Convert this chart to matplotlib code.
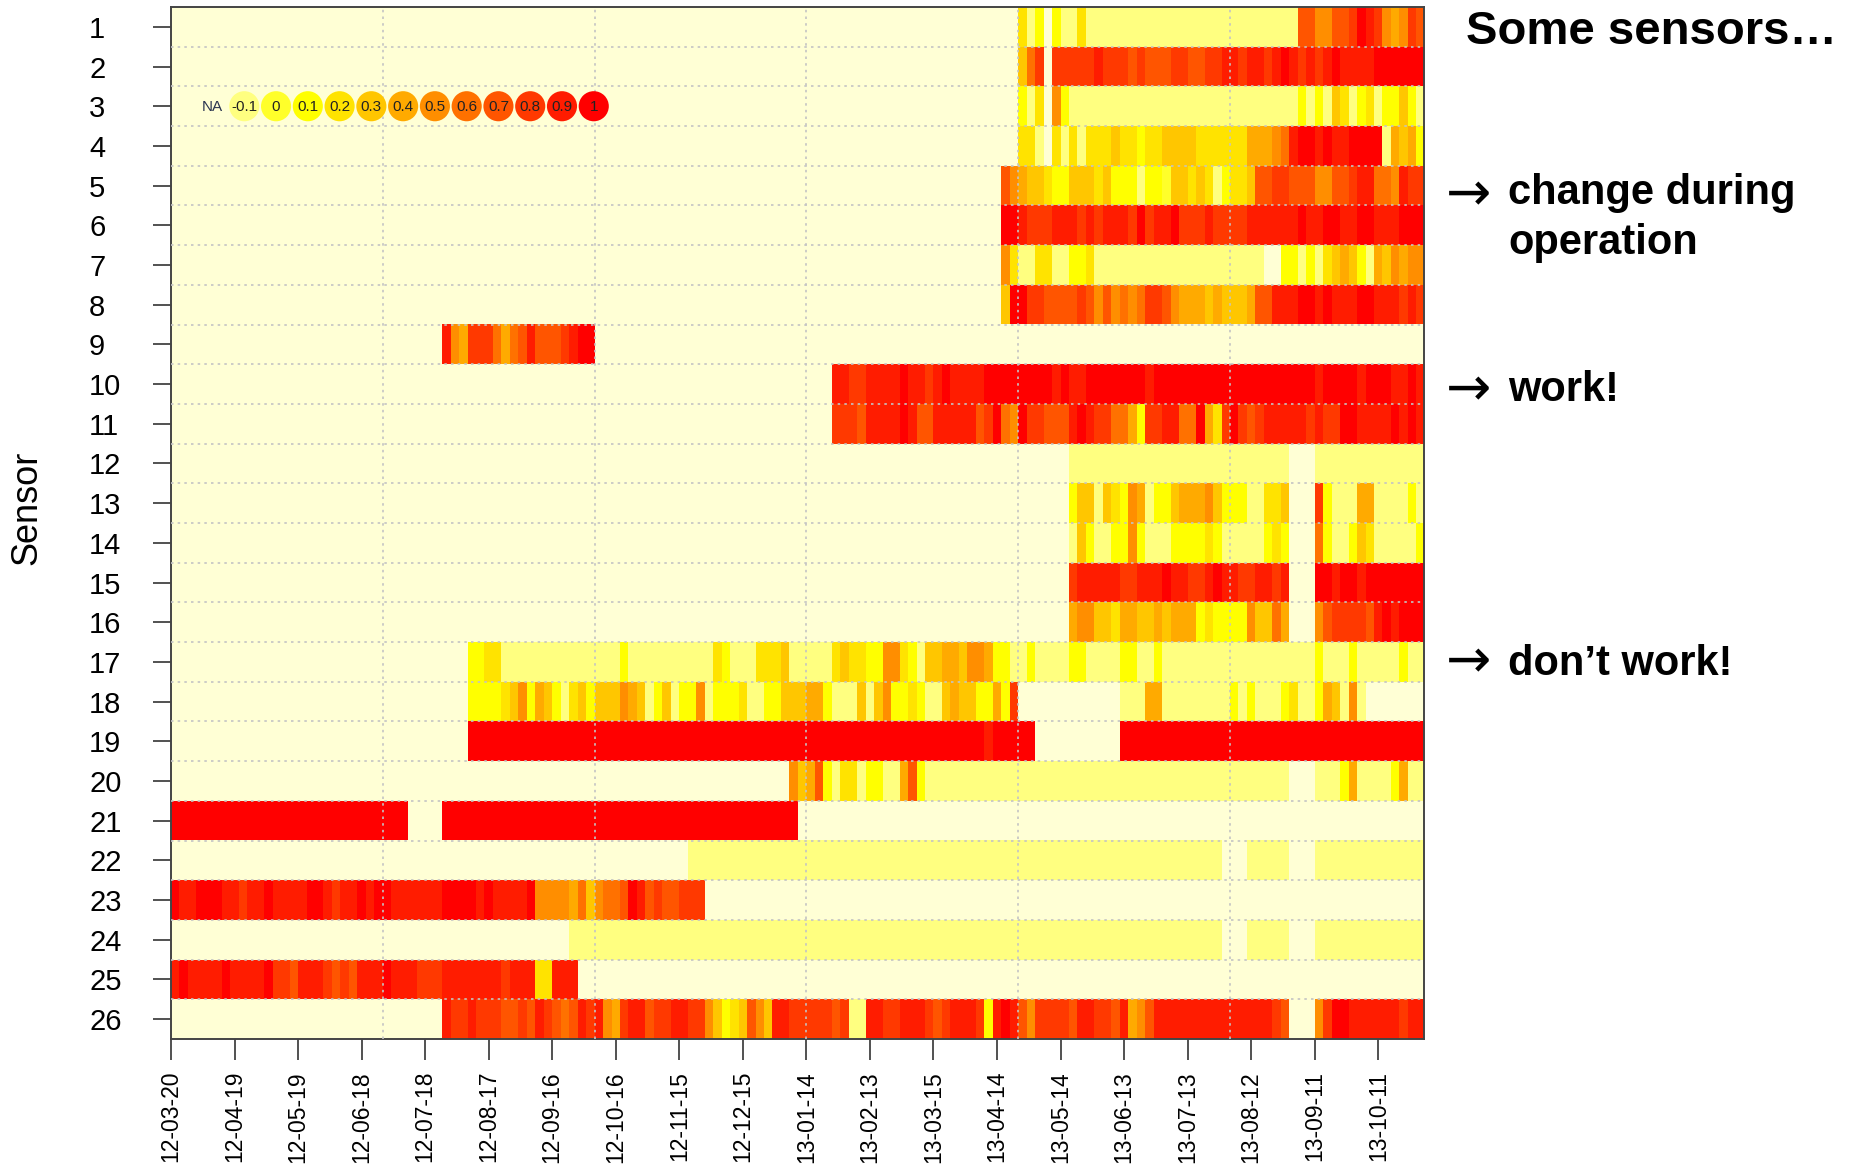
import datetime as dt

import numpy as np
import matplotlib
matplotlib.use("Agg")
import matplotlib.pyplot as plt
from matplotlib.colors import ListedColormap, BoundaryNorm

plt.rcParams['font.family'] = ['Liberation Sans', 'DejaVu Sans']

# --- colour levels (heat palette, pale NA first) ---
level_labels = ['NA', '-0.1', '0', '0.1', '0.2', '0.3', '0.4', '0.5', '0.6', '0.7', '0.8', '0.9', '1']
level_colors = ['#FFFFD5', '#FFFF80', '#FFFF2A', '#FFFF00', '#FFE300', '#FFC600', '#FFAA00',
                '#FF8E00', '#FF7100', '#FF5500', '#FF3900', '#FF1C00', '#FF0000']
level_codes = '.a0123456789X'   # one character per level, same order as above

start_date = dt.date(2012, 3, 20)
block_days = 4                  # each character below covers 4 days
n_blocks = 148

# --- per-sensor values, one character per 4-day block ---
sensor_01 = '.' * 100 + '2a1.1aa2' + 'a' * 25 + '7755778X9854587'
sensor_02 = '.' * 100 + '368.' + '88888' + '9888' + '78777' + '8877' + '8899' + '8998' + '9X98' + '989X' + '9999' + 'XXXXXX'
sensor_03 = '.' * 100 + '1a2.51' + 'a' * 27 + '1a1a32a12a1131a'
sensor_04 = '.' * 100 + '22a.2a2a' + '2223' + '2212' + '2333' + '3222' + '222' + '44456' + '9XX9' + 'X99X' + 'XXX' + 'a4341'
sensor_05 = '.' * 98 + '75' + '43321133' + '3231' + '11a1' + '1033' + '232a' + '1223' + '7788' + '7775' + '5778' + '9966' + '5988'
sensor_06 = '.' * 98 + 'XX' + '98889998' + '9899' + '98X8' + '99X8' + '8898' + '8889' + '9999' + '9X99' + 'XX99' + 'XX99' + '9XXX'
sensor_07 = '.' * 98 + '52' + 'aa22aa11' + '2' + 'a' * 20 + '..' + '11a1a2343' + '1a435455'
sensor_08 = '.' * 98 + '3X' + 'X8877778' + '7575' + '6568' + '8754' + '4434' + '3334' + '7799' + '9XX9' + 'X999' + 'XX99' + '9898'
sensor_09 = '.' * 32 + '9548886467977789XX' + '.' * 98
sensor_10 = ('.' * 78 + '99889' + '999X9' + '989X9' + '999XX' + 'XXXXX' + 'X9X99' + 'X' * 7 + '9' + 'X' * 7
             + 'X' * 12 + '9' + 'XXXX' + '9' + 'XXX' + '99' + 'X' + '9')
sensor_11 = ('.' * 78 + '88879' + '999X9' + '77999' + '9978X' + '65X88' + '7779X' + '98866' + '41889'
             + '966X4' + '28X87' + '89999' + '98988' + 'XX999' + '9X9X9')
sensor_12 = '.' * 106 + 'a' * 26 + '...' + 'a' * 13
sensor_13 = '.' * 106 + '133a3' + '2154a' + '11344' + '45311' + '1aa223' + '...' + '81aaa44aaaa1a'
sensor_14 = '.' * 106 + 'a31aa' + '1151a' + 'aa111' + '121aa' + 'aaa121' + '...' + '61aa132aaaaa1'
sensor_15 = '.' * 106 + '89999' + '98899' + '9X998' + '89X99' + '889989' + '...' + 'XX9XX9XXXXXXX'
sensor_16 = '.' * 106 + '45533' + '24433' + '43444' + '12111' + '153364' + '...' + '57888879X9XXX'
sensor_17 = ('.' * 35 + '1122' + 'a' * 14 + '1' + 'a' * 8
             + 'aa21a' + 'aa222' + '3aaaa' + 'a2322' + '11552' + '1a334' + '43554' + '11aa1' + 'aaaa1'
             + '1aaaa' + '11aa1' + 'aaaaaa' + 'a' * 12 + '1aaa1aaaaa1aa')
sensor_18 = ('.' * 35 + '11112' + '35143' + '1a231' + '33354' + '3a13a' + '11'
             + '5a111' + '2aa11' + '33344' + '1aaa3' + 'a3511' + '21aa3' + '43311' + '418' + '.' * 12
             + 'aaa44' + 'aaaaaa' + 'aa1a1aaa12aa143a5a' + '.' * 7)
sensor_19 = '.' * 35 + 'X' * 61 + '9' + 'X' * 5 + '.' * 10 + 'X' * 36
sensor_20 = '.' * 73 + '53471a22a11aa471' + 'a' * 34 + 'a' * 9 + '...' + 'aaa14aaaa14aa'
sensor_21 = 'X' * 28 + '.' * 4 + 'X' * 42 + '.' * 74
sensor_22 = '.' * 61 + 'a' * 63 + '...' + 'a' * 5 + '...' + 'a' * 13
sensor_23 = ('X99XX' + 'X9989' + '9X999' + '9XX98' + '99X9X' + 'X9999' + '99XXX' + 'X9X99' + '99X55'
             + '55463' + '5667X' + '97877' + '888' + '.' * 85)
sensor_24 = '.' * 47 + 'a' * 77 + '...' + 'a' * 5 + '...' + 'a' * 13
sensor_25 = ('9X999' + '9X999' + '9X887' + '99987' + '87999' + 'X9998' + '88999' + '99998' + '99922'
             + '999' + '.' * 100)
sensor_26 = ('.' * 32 + '98898' + '88778' + '79876' + '79895' + '48997' + '88998'
             + '85312' + '37539' + '98888' + '878aa' + '99889' + '99878' + '99981' + '9X975' + '88887'
             + '99887' + '94579' + '999999' + '999999987' + '...' + '58XX999999899')

sensors = [sensor_01, sensor_02, sensor_03, sensor_04, sensor_05, sensor_06, sensor_07, sensor_08,
           sensor_09, sensor_10, sensor_11, sensor_12, sensor_13, sensor_14, sensor_15, sensor_16,
           sensor_17, sensor_18, sensor_19, sensor_20, sensor_21, sensor_22, sensor_23, sensor_24,
           sensor_25, sensor_26]
sensor_names = [str(i) for i in range(1, len(sensors) + 1)]

for name, row in zip(sensor_names, sensors):
    assert len(row) == n_blocks, (name, len(row))

grid = np.array([[level_codes.index(c) for c in row] for row in sensors])

# --- figure ---
W, H = 1858, 1165
fig = plt.figure(figsize=(W / 100, H / 100), dpi=100)
ax = fig.add_axes([171 / W, 1 - 1039 / H, (1424 - 171) / W, (1039 - 7) / H])

cmap = ListedColormap(level_colors)
norm = BoundaryNorm(np.arange(-0.5, len(level_colors) + 0.5), len(level_colors))
n_days = n_blocks * block_days
ax.imshow(grid, cmap=cmap, norm=norm, aspect='auto', interpolation='nearest',
          extent=[0, n_days, len(sensors) + 0.5, 0.5])

ax.set_xlim(0, 591.6)
ax.set_ylim(len(sensors) + 0.5, 0.5)

# dotted grid
for gx in range(100, 600, 100):
    ax.axvline(gx, color='#c4c4c4', lw=1.2, ls=(0, (1.5, 2.5)), zorder=3)
for gy in np.arange(1.5, len(sensors), 1.0):
    ax.axhline(gy, color='#c4c4c4', lw=1.2, ls=(0, (1.5, 2.5)), zorder=3)

# legend of levels drawn inside the plot on row 3
legend_x = 19.6 + 15.0 * np.arange(len(level_labels))
ax.scatter(legend_x[1:], np.full(len(level_labels) - 1, 3.0), s=470, c=level_colors[1:],
           edgecolors='none', zorder=4)
for lx, lab in zip(legend_x, level_labels):
    ax.text(lx, 3.03, lab, fontsize=11, ha='center', va='center',
            color='#2b3550' if lab == 'NA' else '#222222', zorder=5)

# axes ticks
tick_days = np.arange(0, 571, 30)
tick_labels = [(start_date + dt.timedelta(days=int(d))).strftime('%y-%m-%d') for d in tick_days]
ax.set_xticks(tick_days)
ax.set_xticklabels(tick_labels, rotation=90, fontsize=16.5, va='top', ha='center')
ax.tick_params(axis='x', length=15, width=1.2, pad=8, color='#333333')

ax.set_yticks(np.arange(1, len(sensors) + 1))
ax.set_yticklabels(sensor_names, fontsize=21, ha='left')
ax.tick_params(axis='y', length=13, width=1.2, pad=46, color='#333333')

for sp in ax.spines.values():
    sp.set_color('#444444')
    sp.set_linewidth(1.4)

fig.text(27 / W, 1 - 508 / H, 'Sensor', rotation=90, fontsize=26, ha='center', va='center')

# annotations on the right
fig.text(1466 / W, 1 - 44 / H, 'Some sensors…', fontsize=34, fontweight='bold', va='baseline')
for y_base in (210, 405, 677):
    fig.text(1446 / W, 1 - y_base / H, '→', fontsize=39, family='DejaVu Sans',
             va='baseline')
fig.text(1508 / W, 1 - 204 / H, 'change during', fontsize=30, fontweight='bold', va='baseline')
fig.text(1508 / W, 1 - 254 / H, 'operation', fontsize=30, fontweight='bold', va='baseline')
fig.text(1508 / W, 1 - 401 / H, 'work!', fontsize=30, fontweight='bold', va='baseline')
fig.text(1508 / W, 1 - 675 / H, 'don’t work!', fontsize=30, fontweight='bold', va='baseline')

fig.savefig('out.png', dpi=100)
